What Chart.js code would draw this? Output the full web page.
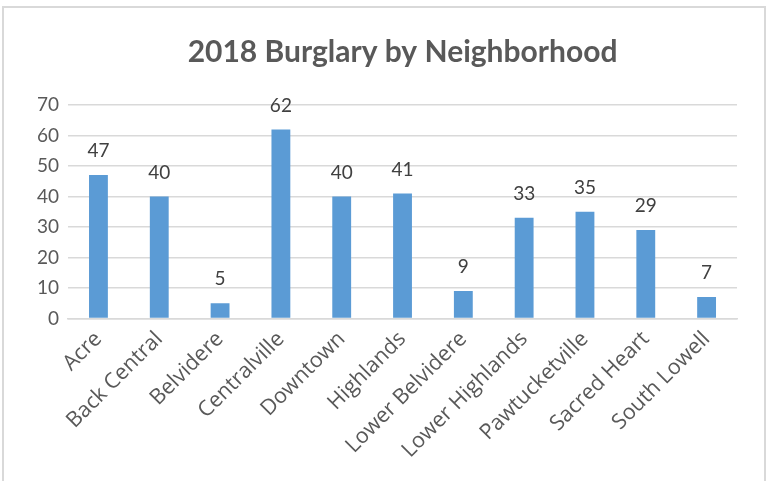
<!DOCTYPE html>
<html>
<head>
<meta charset="utf-8">
<script src="https://cdn.jsdelivr.net/npm/chart.js@4.4.1/dist/chart.umd.min.js"></script>
<style>
  html, body { margin: 0; padding: 0; background: #fff; }
  #frame { position: absolute; left: 2px; top: 6px; width: 760px; height: 480px; border: 2px solid #d9d9d9; }
  #wrap { position: absolute; left: 0; top: 0; width: 766px; height: 481px; }
</style>
</head>
<body>
<div id="frame"></div>
<div id="wrap"><canvas id="chart"></canvas></div>
<script>
const neighborhoods = ['Acre', 'Back Central', 'Belvidere', 'Centralville', 'Downtown', 'Highlands',
  'Lower Belvidere', 'Lower Highlands', 'Pawtucketville', 'Sacred Heart', 'South Lowell']
const burglaries = [47, 40, 5, 62, 40, 41, 9, 33, 35, 29, 7]
const yTicks = [0, 10, 20, 30, 40, 50, 60, 70]

const FONT = 'Lato, "Open Sans", sans-serif'
const TEXT = '#595959'

// draws the value above each bar
const valueLabels = {
  id: 'valueLabels',
  afterDatasetsDraw(chart) {
    const ctx = chart.ctx
    const meta = chart.getDatasetMeta(0)
    ctx.save()
    ctx.font = '19px ' + FONT
    ctx.fillStyle = '#404040'
    ctx.textAlign = 'center'
    ctx.textBaseline = 'middle'
    meta.data.forEach((bar, i) => {
      ctx.fillText(String(burglaries[i]), bar.x, bar.y - 24)
    })
    ctx.restore()
  }
}

new Chart(document.getElementById('chart'), {
  type: 'bar',
  data: {
    labels: neighborhoods,
    datasets: [{
      data: burglaries,
      backgroundColor: '#5B9BD5',
      barPercentage: 0.31,
      categoryPercentage: 1
    }]
  },
  options: {
    responsive: true,
    maintainAspectRatio: false,
    animation: false,
    layout: { padding: { left: 28, right: 29, top: 34, bottom: 10 } },
    plugins: {
      legend: { display: false },
      tooltip: { enabled: false },
      title: {
        display: true,
        fullSize: false,
        text: '2018 Burglary by Neighborhood',
        color: TEXT,
        font: { family: FONT, size: 30, weight: 'bold' },
        padding: { top: 0, bottom: 35 }
      }
    },
    scales: {
      x: {
        grid: { display: false, drawTicks: false },
        border: { color: '#d9d9d9', width: 1.5 },
        ticks: {
          color: TEXT,
          font: { family: '"Open Sans", sans-serif', size: 21.5 },
          minRotation: 45,
          maxRotation: 45,
          padding: 8,
          autoSkip: false
        }
      },
      y: {
        min: 0,
        max: 70,
        afterBuildTicks(axis) { axis.ticks = yTicks.map(v => ({ value: v })) },
        grid: { color: '#d9d9d9', lineWidth: 1.5, drawTicks: false },
        border: { display: false },
        ticks: {
          color: TEXT,
          font: { family: FONT, size: 19 },
          padding: 9
        }
      }
    }
  },
  plugins: [valueLabels]
})
</script>
</body>
</html>
